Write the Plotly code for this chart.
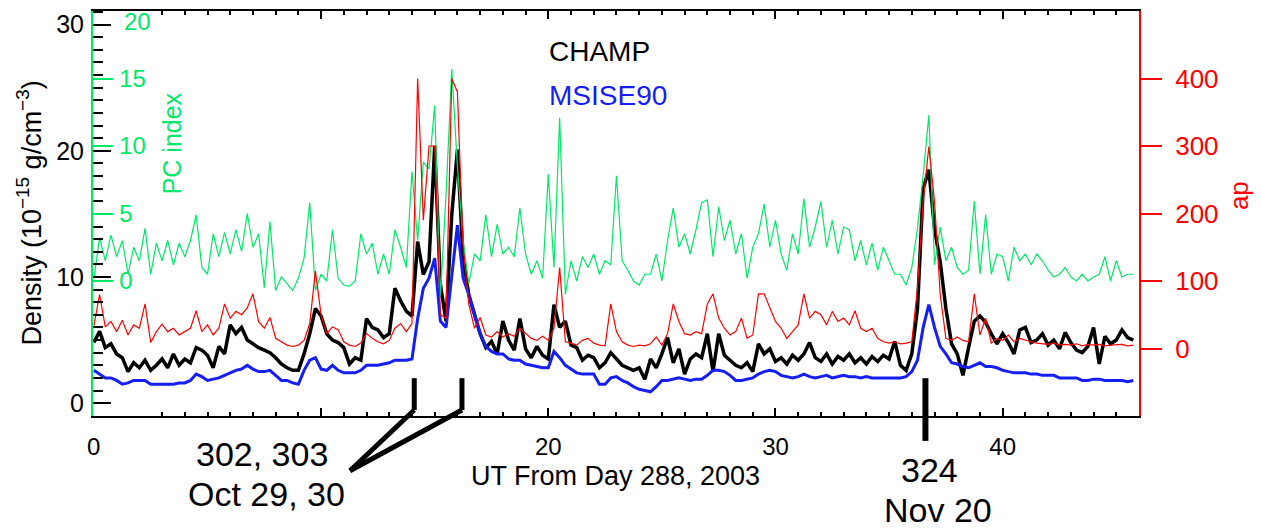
import plotly.graph_objects as go

# ---------------- data (sampled every 0.25 day from day 0 = day 288, 2003) ----------------
STEP = 0.25

pc_index = [
    0.2, 3.2, 1.5, 3.4,   1.8, 3.0, 0.5, 2.5,   1.5, 3.9, 0.5, 2.8,   1.5, 3.0, 1.2, 2.8,
    1.8, 3.0, 4.9, 1.0,   0.5, 3.5, 1.8, 3.6,   2.0, 3.8, 2.2, 5.0,   2.5, 3.5, -0.5, 4.4,
    -0.7, 0.3, -0.2, -0.7, 0.2, 1.7, 5.8, -0.7, 0.5, 0.0, 3.8, 0.2,   -0.3, -0.4, 0.0, 3.5,
    2.0, 2.8, 0.5, 2.0,   0.5, 3.8, 2.5, 1.0,   8.1, 3.0, 8.8, 8.3,   13.0, -1.2, 6.4, 15.7,
    8.5, 3.0, -0.2, 2.0,  1.5, 4.9, 1.8, 4.2,   2.0, 2.5, 1.8, 5.4,   2.0, 0.5, 1.5, 0.2,
    7.9, 1.0, 12.1, -1.0, 1.5, 0.0, 1.8, 1.0,   2.0, 0.5, 1.5, 1.2,   7.8, 1.5, 0.8, 0.0,
    -0.3, 0.5, 0.5, 2.0,  0.0, 3.0, 5.4, 2.5,   3.5, 2.0, 3.8, 5.8,   6.0, 1.8, 5.5, 3.0,
    4.5, 2.0, 3.5, 0.2,   2.5, 3.5, 5.7, 2.5,   4.5, 2.0, 0.8, 3.5,   2.0, 6.1, 2.5, 4.0,
    5.9, 2.5, 4.5, 2.0,   4.0, 3.8, 1.5, 3.0,   1.2, 2.8, 0.8, 2.5,   1.5, 0.5, 0.5, -0.3,
    1.0, 3.9, 7.8, 12.3,  1.2, 4.0, 1.5, 2.5,   1.0, 0.5, 0.8, 5.9,   0.5, 4.9, 0.5, 2.0,
    1.8, 0.0, 2.5, 1.5,   2.0, 1.2, 2.0, 1.5,   0.8, 0.3, 0.5, 1.0,   0.3, 0.0, 0.5, 0.0,
    0.3, 0.5, 1.8, 0.0,   1.5, 0.3, 0.5, 0.5,
]

ap_index = [
    34, 80, 32, 40,   25, 42, 20, 35,   30, 66, 9, 25,    36, 25, 30, 20,
    25, 30, 56, 25,   35, 20, 30, 66,   45, 55, 50, 60,   81, 40, 30, 46,
    15, 10, 5, 3,     5, 12, 37, 115,   50, 22, 32, 28,   10, 5, 3, 8,
    22, 15, 10, 7,    12, 30, 37, 25,   37, 400, 190, 300, 300, 50, 45, 400,
    380, 150, 66, 30, 46, 20, 17, 25,   17, 22, 18, 30,   22, 15, 12, 18,
    12, 30, 120, 10,  8, 5, 12, 15,     8, 5, 4, 66,      25, 10, 5, 3,
    5, 4, 7, 17,      5, 22, 66, 40,    22, 20, 25, 22,   66, 81, 45, 30,
    20, 25, 45, 15,   20, 81, 81, 60,   40, 30, 15, 25,   35, 81, 45, 55,
    50, 35, 55, 40,   45, 35, 56, 30,   25, 30, 15, 10,   8, 10, 7, 8,
    10, 90, 218, 299, 218, 80, 15, 12,  17, 12, 10, 81,   20, 45, 8, 15,
    12, 20, 10, 15,   12, 10, 8, 7,     6, 8, 5, 6,       5, 7, 4, 6,
    5, 6, 4, 5,       5, 6, 4, 5,
]

champ_density = [
    4.8, 5.7, 4.4, 4.7,   3.9, 3.6, 2.5, 3.2,   2.8, 3.4, 2.6, 3.0,   3.5, 2.8, 3.9, 3.0,
    3.5, 3.2, 4.4, 4.2,   3.8, 2.8, 4.5, 3.9,   6.2, 5.5, 6.0, 5.0,   4.7, 4.4, 4.2, 4.0,
    3.6, 3.1, 2.8, 2.6,   2.6, 3.9, 5.5, 7.5,   6.9, 5.5, 5.0, 4.8,   4.4, 3.1, 3.6, 3.4,
    6.7, 6.0, 5.8, 5.2,   5.5, 9.1, 8.1, 7.3,   6.9, 12.8, 10.2, 11.2, 20.4, 9.4, 6.5, 14.9,
    20.1, 11.5, 8.6, 7.0, 5.5, 4.4, 4.9, 3.9,   6.5, 5.0, 4.2, 6.7,   4.3, 3.6, 4.5, 3.8,
    3.5, 7.8, 6.0, 6.5,   4.6, 4.4, 3.4, 3.8,   3.6, 2.8, 3.2, 4.0,   3.5, 3.0, 2.8, 2.6,
    2.8, 1.9, 3.5, 2.8,   3.9, 5.2, 3.2, 4.3,   2.3, 3.5, 3.9, 3.6,   5.5, 2.5, 5.5, 3.8,
    3.4, 3.0, 2.8, 3.2,   2.5, 4.7, 3.9, 4.3,   3.3, 3.6, 3.1, 3.8,   3.4, 3.9, 4.8, 3.6,
    3.3, 3.9, 3.1, 3.7,   3.4, 3.9, 3.2, 3.6,   3.1, 3.7, 3.3, 3.8,   3.5, 4.9, 3.0, 2.6,
    3.9, 7.5, 17.0, 18.5, 13.8, 11.2, 7.5, 4.7, 3.9, 2.2, 4.4, 6.5,   6.9, 6.4, 5.5, 4.7,
    5.5, 4.8, 3.9, 5.8,   6.0, 4.8, 5.0, 5.5,   4.6, 5.0, 4.3, 5.6,   4.8, 4.2, 4.0, 4.5,
    6.0, 3.1, 5.3, 4.7,   5.0, 5.8, 5.2, 5.0,
]

msis_density = [
    2.6, 2.3, 2.0, 2.0,   1.8, 1.5, 1.6, 1.8,   1.8, 1.8, 1.5, 1.5,   1.5, 1.5, 1.5, 1.6,
    1.6, 1.8, 2.3, 2.1,   1.8, 1.9, 2.0, 2.2,   2.4, 2.6, 2.7, 3.0,   2.7, 2.5, 2.5, 2.6,
    2.2, 1.8, 1.8, 1.6,   1.5, 2.6, 3.4, 3.6,   2.7, 2.6, 3.0, 2.6,   2.4, 2.4, 2.4, 2.6,
    3.0, 3.0, 3.0, 3.1,   3.2, 3.4, 3.4, 3.4,   3.5, 6.7, 9.1, 9.9,   11.5, 6.5, 6.0, 10.0,
    14.1, 9.9, 8.6, 7.0,  5.5, 4.5, 4.1, 3.9,   3.9, 3.5, 3.4, 3.4,   3.1, 3.0, 2.9, 2.8,
    2.8, 4.1, 3.6, 3.0,   2.7, 2.4, 2.3, 2.3,   2.3, 1.5, 1.5, 2.0,   2.1, 1.8, 1.6, 1.3,
    1.1, 1.0, 0.9, 1.3,   1.8, 1.8, 1.9, 2.0,   1.9, 1.8, 1.9, 1.9,   2.2, 2.6, 2.6, 2.5,
    2.2, 1.8, 1.8, 1.9,   2.0, 2.3, 2.5, 2.6,   2.5, 2.2, 2.1, 2.0,   2.1, 2.3, 2.1, 2.0,
    2.1, 2.2, 2.0, 2.1,   2.2, 2.1, 2.1, 2.0,   2.1, 2.0, 2.0, 2.0,   2.0, 2.0, 2.0, 2.1,
    2.5, 3.4, 6.0, 7.8,   6.0, 4.5, 3.9, 3.2,   3.1, 2.9, 2.8, 3.0,   3.2, 2.9, 2.9, 2.8,
    2.6, 2.5, 2.4, 2.4,   2.4, 2.3, 2.3, 2.2,   2.2, 2.2, 2.0, 2.0,   2.0, 2.0, 1.8, 1.8,
    1.9, 1.9, 1.8, 1.8,   1.8, 1.8, 1.7, 1.8,
]

days = [i * STEP for i in range(len(champ_density))]

x_labelled_ticks = [20, 30, 40]
x_unlabelled_ticks = [0, 10]
x_first_label = 0
density_ticks = [0, 10, 20, 30]
pc_ticks = [0, 5, 10, 15]
pc_top_label = 20
ap_ticks = [0, 100, 200, 300, 400]

storm_days_a = [14.1, 16.2]   # marker positions (days) for Oct 29, 30
storm_day_b = 36.6            # marker position (day) for Nov 20

# ---------------- layout geometry ----------------
# The page body has an 8px margin, so the figure is drawn 8px in from the
# window's top-left corner; the sizes below compensate for it.
BODY = 8
W, H = 1261 - BODY, 530 - BODY
ML, MR, MT, MB = 93 - BODY, 122, 1, 114
PW = W - ML - MR
PH = H - MT - MB
X_RANGE = [-0.04, 46]
PC_RANGE = [-10, 20]


def px_x(px):
    """screen x pixel -> paper x"""
    return (px - BODY - ML) / PW


def px_y(py):
    """screen y pixel -> paper y"""
    return (H - MB - (py - BODY)) / PH


def day_x(d):
    return (d - X_RANGE[0]) / (X_RANGE[1] - X_RANGE[0])


def pc_y(v):
    return (v - PC_RANGE[0]) / (PC_RANGE[1] - PC_RANGE[0])


GREEN = "rgb(0,232,106)"
RED = "rgb(255,0,0)"
BLUE = "rgb(20,30,245)"
FONT = "Liberation Sans"

fig = go.Figure()
fig.add_trace(go.Scatter(x=days, y=champ_density, mode="lines", yaxis="y",
                         line=dict(color="black", width=3.5), showlegend=False))
fig.add_trace(go.Scatter(x=days, y=msis_density, mode="lines", yaxis="y",
                         line=dict(color=BLUE, width=3), showlegend=False))
fig.add_trace(go.Scatter(x=days, y=pc_index, mode="lines", yaxis="y2",
                         line=dict(color=GREEN, width=1.2), showlegend=False))
fig.add_trace(go.Scatter(x=days, y=ap_index, mode="lines", yaxis="y3",
                         line=dict(color=RED, width=1.2), showlegend=False))
# empty trace so the tick-only overlay x axis is drawn
fig.add_trace(go.Scatter(x=[], y=[], xaxis="x2", yaxis="y", mode="lines",
                         showlegend=False, hoverinfo="skip"))

fig.update_layout(
    width=W, height=H,
    margin=dict(l=ML, r=MR, t=MT, b=MB, pad=0),
    paper_bgcolor="white", plot_bgcolor="white",
    font=dict(family=FONT, color="black"),
    showlegend=False,
    xaxis=dict(range=X_RANGE, showgrid=False, zeroline=False,
               showline=True, linecolor="black", linewidth=2, mirror="ticks",
               ticks="inside", ticklen=8, tickwidth=2, tickcolor="black",
               tickvals=x_labelled_ticks,
               tickfont=dict(size=24, color="black"), ticklabelstandoff=8,
               minor=dict(dtick=1, ticks="inside", ticklen=4, tickwidth=1.5,
                          tickcolor="black", showgrid=False)),
    xaxis2=dict(range=X_RANGE, overlaying="x", anchor="y", side="bottom",
                showgrid=False, zeroline=False, showline=False, mirror="ticks",
                ticks="inside", ticklen=8, tickwidth=2, tickcolor="black",
                tickvals=x_unlabelled_ticks, showticklabels=False),
    yaxis=dict(range=[-1.02, 31.08], showgrid=False, zeroline=False, showline=False,
               ticks="inside", ticklen=18, tickwidth=2, tickcolor="black",
               tickvals=density_ticks, tickfont=dict(size=25, color="black"),
               ticklabelstandoff=8,
               minor=dict(dtick=1, ticks="inside", ticklen=10, tickwidth=2,
                          tickcolor="black", showgrid=False)),
    yaxis2=dict(range=PC_RANGE, overlaying="y", side="left", anchor="x",
                showgrid=False, zeroline=False, showline=True, linecolor=GREEN, linewidth=2,
                ticks="inside", ticklen=20, tickwidth=1.5, tickcolor=GREEN,
                tickvals=pc_ticks, ticklabelposition="inside",
                tickfont=dict(size=24, color=GREEN), ticklabelstandoff=8),
    yaxis3=dict(range=[-100, 500], overlaying="y", side="right", anchor="x",
                showgrid=False, zeroline=False, showline=True, linecolor=RED, linewidth=2,
                ticks="outside", ticklen=21, tickwidth=1.5, tickcolor=RED,
                tickvals=ap_ticks, tickfont=dict(size=26, color=RED),
                ticklabelstandoff=8),
)

annots = [
    dict(text="Density (10<sup>−15</sup> g/cm<sup>−3</sup>)", x=px_x(29), y=0.5,
         textangle=-90, font=dict(size=27, color="black")),
    dict(text="PC index", x=px_x(172), y=px_y(142), textangle=-90,
         font=dict(size=25, color=GREEN)),
    dict(text="ap", x=px_x(1239), y=px_y(195), textangle=-90,
         font=dict(size=26, color=RED)),
    dict(text=str(pc_top_label), x=px_x(122), y=pc_y(pc_top_label) - 11 / PH, xanchor="left",
         font=dict(size=24, color=GREEN)),
    dict(text=str(x_first_label), x=day_x(x_first_label), y=px_y(447),
         font=dict(size=24, color="black")),
    dict(text="CHAMP", x=px_x(547), y=px_y(50), xanchor="left",
         font=dict(size=28, color="black")),
    dict(text="MSISE90", x=px_x(547), y=px_y(94), xanchor="left",
         font=dict(size=28, color=BLUE)),
    dict(text="UT From Day 288, 2003", x=px_x(615), y=px_y(476),
         font=dict(size=27, color="black")),
    dict(text="302, 303", x=px_x(262), y=px_y(454), font=dict(size=34, color="black")),
    dict(text="Oct 29, 30", x=px_x(266), y=px_y(494), font=dict(size=34, color="black")),
    dict(text="324", x=px_x(929), y=px_y(470), font=dict(size=34, color="black")),
    dict(text="Nov 20", x=px_x(938), y=px_y(510), font=dict(size=34, color="black")),
]
for a in annots:
    a.setdefault("xanchor", "center")
    a.update(xref="paper", yref="paper", yanchor="middle", showarrow=False)
    fig.add_annotation(**a)

line_style = dict(color="black", width=5)
join_pt = (px_x(350), px_y(471))
for d in storm_days_a:
    fig.add_shape(type="line", xref="paper", yref="paper",
                  x0=day_x(d), x1=day_x(d), y0=px_y(378), y1=px_y(410), line=line_style)
    fig.add_shape(type="line", xref="paper", yref="paper",
                  x0=day_x(d), x1=join_pt[0], y0=px_y(410), y1=join_pt[1], line=line_style)
fig.add_shape(type="line", xref="paper", yref="paper",
              x0=day_x(storm_day_b), x1=day_x(storm_day_b), y0=px_y(378), y1=px_y(441),
              line=dict(color="black", width=6))

fig.write_html("out.html")
